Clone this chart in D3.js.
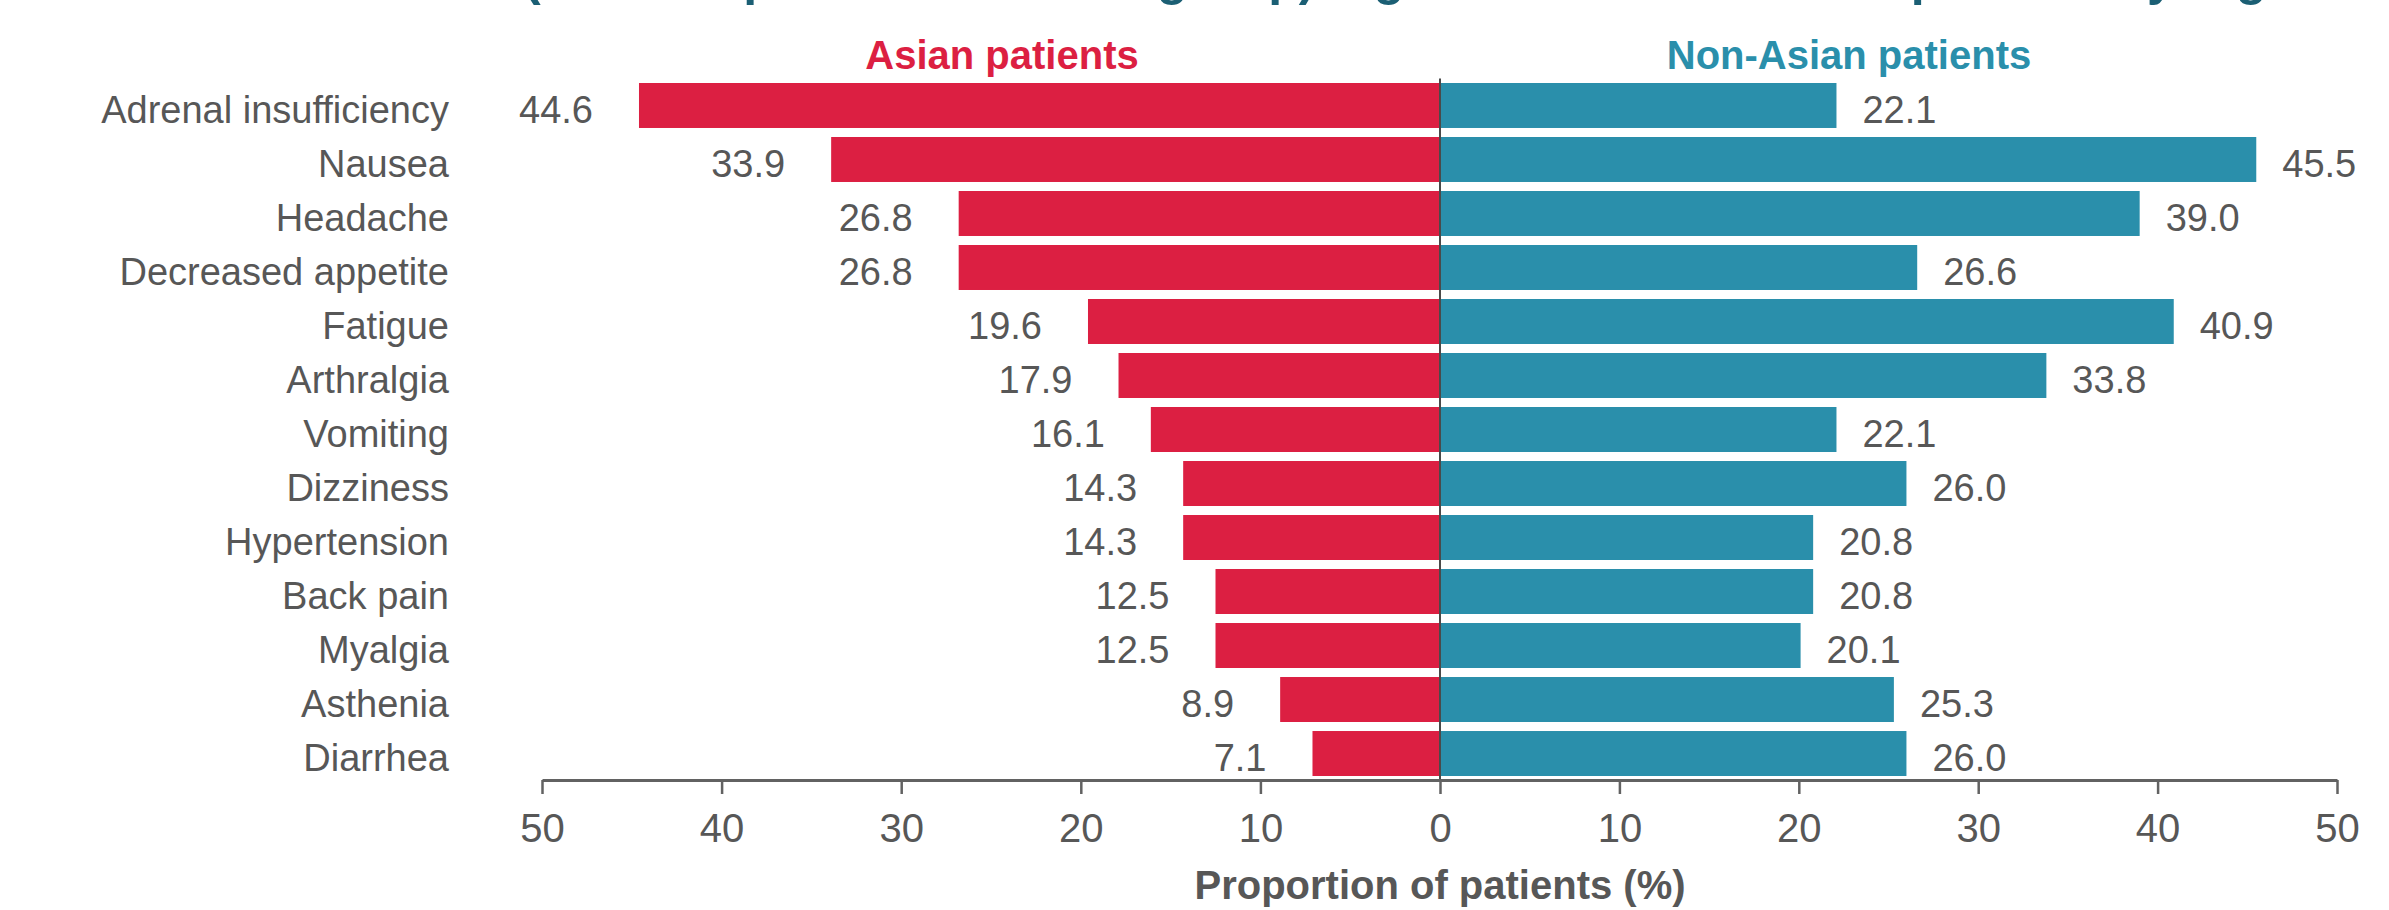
<!DOCTYPE html>
<html>
<head>
<meta charset="utf-8">
<script src="https://cdn.jsdelivr.net/npm/d3@7/dist/d3.min.js"></script>
<style>
  html, body { margin: 0; padding: 0; background: #ffffff; }
  svg { display: block; font-family: "Liberation Sans", Arial, Helvetica, sans-serif; }
</style>
</head>
<body>
<svg id="chart" width="2389" height="910"></svg>
<script>
// Adverse events, ordered as listed on the chart
const categories = [
  "Adrenal insufficiency", "Nausea", "Headache", "Decreased appetite", "Fatigue",
  "Arthralgia", "Vomiting", "Dizziness", "Hypertension", "Back pain",
  "Myalgia", "Asthenia", "Diarrhea"
];
// Proportion of patients (%) per group
const asianValues    = [44.6, 33.9, 26.8, 26.8, 19.6, 17.9, 16.1, 14.3, 14.3, 12.5, 12.5, 8.9, 7.1];
const nonAsianValues = [22.1, 45.5, 39.0, 26.6, 40.9, 33.8, 22.1, 26.0, 20.8, 20.8, 20.1, 25.3, 26.0];
// Axis ticks for each half
const leftTicks  = [50, 40, 30, 20, 10, 0];
const rightTicks = [10, 20, 30, 40, 50];
const groupLabels = ["Asian patients", "Non-Asian patients"];
const axisTitle = "Proportion of patients (%)";
const titleText = "(\u226515% of patients in either group) higher in Asian vs other patients by region";

const RED = "#dc1f42";
const TEAL = "#2a8fab";
const TEXT = "#575757";
const AXIS = "#626262";

const svg = d3.select("#chart");

const zeroX = 1440, leftEnd = 542, rightEnd = 2337;
const xLeft  = d3.scaleLinear().domain([0, 50]).range([zeroX, leftEnd]);
const xRight = d3.scaleLinear().domain([0, 50]).range([zeroX, rightEnd]);

const y = d3.scaleBand()
  .domain(categories)
  .range([78.5, 780.5])
  .paddingInner(0.167)
  .paddingOuter(0.0833);

const rows = categories.map((c, i) => ({ c, a: asianValues[i], n: nonAsianValues[i] }));

// Title line (runs off the top edge)
svg.append("text")
  .attr("x", 524).attr("y", -5)
  .attr("fill", "#1b5f74")
  .attr("font-size", 50).attr("font-weight", "bold")
  .text(titleText);

// Group headings
svg.append("text")
  .attr("x", 1002).attr("y", 69)
  .attr("text-anchor", "middle")
  .attr("fill", RED).attr("font-size", 40).attr("font-weight", "bold")
  .text(groupLabels[0]);
svg.append("text")
  .attr("x", 1849).attr("y", 69)
  .attr("text-anchor", "middle")
  .attr("fill", TEAL).attr("font-size", 40).attr("font-weight", "bold")
  .text(groupLabels[1]);

// Bars
svg.append("g").selectAll("rect").data(rows).join("rect")
  .attr("x", d => xLeft(d.a))
  .attr("y", d => y(d.c))
  .attr("width", d => zeroX - xLeft(d.a))
  .attr("height", y.bandwidth())
  .attr("fill", RED);

svg.append("g").selectAll("rect").data(rows).join("rect")
  .attr("x", zeroX)
  .attr("y", d => y(d.c))
  .attr("width", d => xRight(d.n) - zeroX)
  .attr("height", y.bandwidth())
  .attr("fill", TEAL);

// Centre line
svg.append("line")
  .attr("x1", zeroX).attr("x2", zeroX)
  .attr("y1", y.range()[0]).attr("y2", 780)
  .attr("stroke", "#4a4a4a").attr("stroke-width", 2);

// Category labels
svg.append("g").selectAll("text").data(rows).join("text")
  .attr("x", 449)
  .attr("y", d => y(d.c) + y.bandwidth() / 2)
  .attr("dy", "0.46em")
  .attr("text-anchor", "end")
  .attr("fill", TEXT).attr("font-size", 38)
  .text(d => d.c);

// Value labels
svg.append("g").selectAll("text").data(rows).join("text")
  .attr("x", d => xLeft(d.a) - 46)
  .attr("y", d => y(d.c) + y.bandwidth() / 2)
  .attr("dy", "0.46em")
  .attr("text-anchor", "end")
  .attr("fill", TEXT).attr("font-size", 38)
  .text(d => d.a.toFixed(1));

svg.append("g").selectAll("text").data(rows).join("text")
  .attr("x", d => xRight(d.n) + 26)
  .attr("y", d => y(d.c) + y.bandwidth() / 2)
  .attr("dy", "0.46em")
  .attr("text-anchor", "start")
  .attr("fill", TEXT).attr("font-size", 38)
  .text(d => d.n.toFixed(1));

// Bottom axis, mirrored around zero
function styleAxis(g) {
  g.select(".domain").attr("stroke", AXIS).attr("stroke-width", 3);
  g.selectAll(".tick line").attr("stroke", AXIS).attr("stroke-width", 2.5);
  g.selectAll(".tick text")
    .attr("fill", TEXT).attr("font-size", 40)
    .attr("font-family", "Liberation Sans, Arial, sans-serif");
}
svg.append("g")
  .attr("transform", "translate(0,780)")
  .call(d3.axisBottom(xLeft).tickValues(leftTicks).tickSize(14).tickSizeOuter(0).tickPadding(20))
  .call(styleAxis);
svg.append("g")
  .attr("transform", "translate(0,780)")
  .call(d3.axisBottom(xRight).tickValues(rightTicks).tickSize(14).tickSizeOuter(0).tickPadding(20))
  .call(styleAxis);

// Axis title
svg.append("text")
  .attr("x", zeroX).attr("y", 899)
  .attr("text-anchor", "middle")
  .attr("fill", TEXT).attr("font-size", 40).attr("font-weight", "bold")
  .text(axisTitle);
</script>
</body>
</html>
